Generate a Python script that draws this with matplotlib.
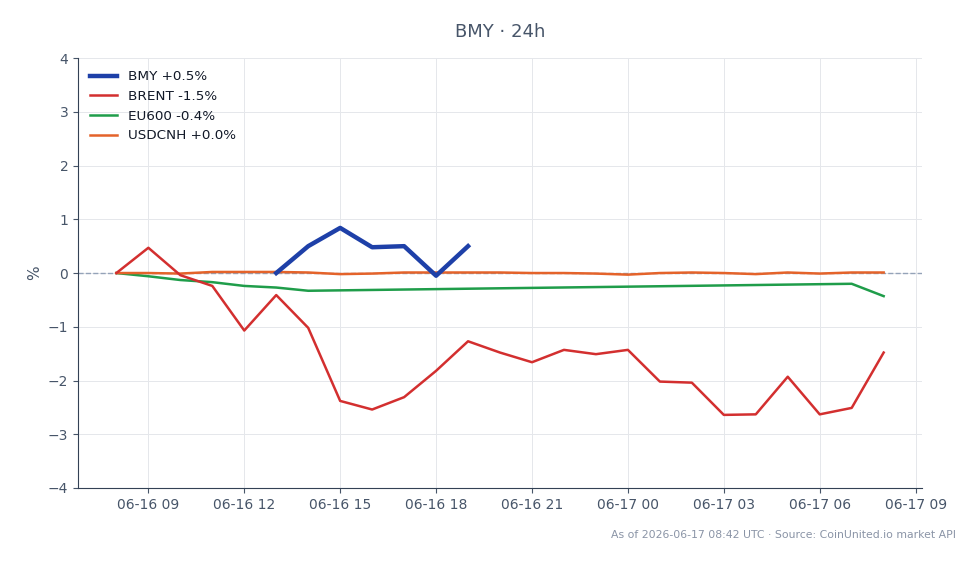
import numpy as np
import pandas as pd
import matplotlib
matplotlib.use("Agg")
import matplotlib.pyplot as plt
import matplotlib.dates as mdates

# hourly timestamps, 06-16 08:00 .. 06-17 08:00
hours = pd.date_range("2026-06-16 08:00", "2026-06-17 08:00", freq="h")

bmy_times = pd.date_range("2026-06-16 13:00", "2026-06-16 19:00", freq="h")
bmy = [0.0, 0.50, 0.84, 0.48, 0.50, -0.05, 0.50]

brent = [0.0, 0.47, -0.04, -0.24, -1.07, -0.41, -1.02, -2.38, -2.54, -2.31,
         -1.82, -1.27, -1.48, -1.66, -1.43, -1.51, -1.43, -2.02, -2.04, -2.64,
         -2.63, -1.93, -2.63, -2.51, -1.48]

eu_times = pd.to_datetime(["2026-06-16 08:00", "2026-06-16 09:00", "2026-06-16 10:00",
                           "2026-06-16 11:00", "2026-06-16 12:00", "2026-06-16 13:00",
                           "2026-06-16 14:00", "2026-06-17 07:00", "2026-06-17 08:00"])
eu600 = [0.0, -0.06, -0.13, -0.17, -0.24, -0.27, -0.33, -0.20, -0.43]

usdcnh = [0.0, 0.0, -0.01, 0.02, 0.02, 0.02, 0.01, -0.02, -0.01, 0.01,
          0.01, 0.01, 0.01, 0.0, 0.0, -0.01, -0.03, 0.0, 0.01, 0.0,
          -0.02, 0.01, -0.01, 0.01, 0.01]

labels = ["BMY +0.5%", "BRENT -1.5%", "EU600 -0.4%", "USDCNH +0.0%"]
colors = ["#1e40a8", "#d32f2f", "#1f9d4a", "#e4632a"]

txt = "#475569"
fig = plt.figure(figsize=(9.79, 5.64), dpi=100)
ax = fig.add_axes([0.0797, 0.1348, 0.8621, 0.7622])

ax.axhline(0, color="#94a3b8", lw=1, ls="--", zorder=1)
ax.plot(bmy_times, bmy, color=colors[0], lw=3.2, label=labels[0], zorder=5)
ax.plot(hours, brent, color=colors[1], lw=1.8, label=labels[1], zorder=4)
ax.plot(eu_times, eu600, color=colors[2], lw=1.8, label=labels[2], zorder=3)
ax.plot(hours, usdcnh, color=colors[3], lw=1.8, label=labels[3], zorder=3)

ax.set_ylim(-4, 4)
ax.set_xlim(pd.Timestamp("2026-06-16 06:48"), pd.Timestamp("2026-06-17 09:12"))
ax.xaxis.set_major_locator(mdates.HourLocator(byhour=[0, 3, 6, 9, 12, 15, 18, 21]))
ax.xaxis.set_major_formatter(mdates.DateFormatter("%m-%d %H"))

ax.grid(True, color="#e5e7eb", lw=0.7)
ax.set_axisbelow(True)
for s in ["top", "right"]:
    ax.spines[s].set_visible(False)
for s in ["left", "bottom"]:
    ax.spines[s].set_color("#334155")
ax.tick_params(colors=txt, labelsize=10)
ax.set_ylabel("%", color=txt, fontsize=11)

ax.legend(loc="upper left", frameon=False, fontsize=9.7, labelcolor="#111827")
ax.set_title("BMY · 24h", color=txt, fontsize=13, pad=15)

fig.text(0.976, 0.052, "As of 2026-06-17 08:42 UTC · Source: CoinUnited.io market API",
         ha="right", va="center", fontsize=7.8, color="#8a94a6")

fig.savefig("out.png", dpi=100)
